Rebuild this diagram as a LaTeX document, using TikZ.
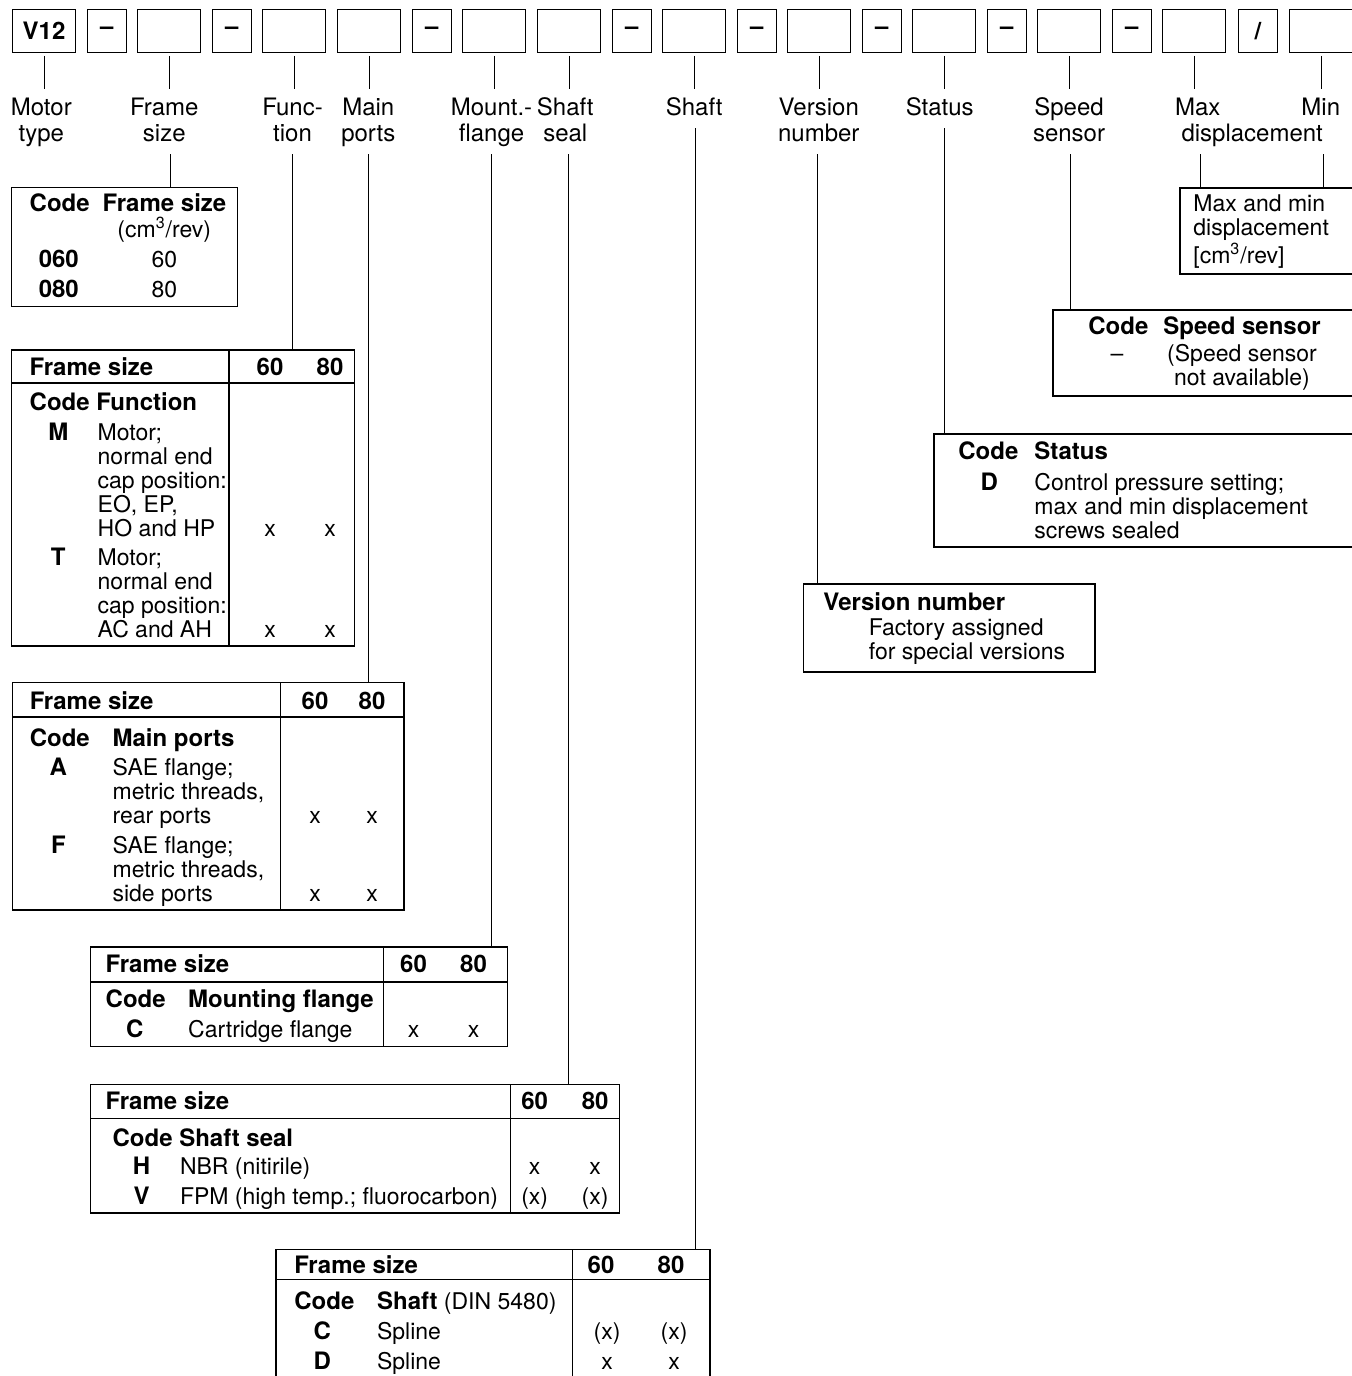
\documentclass[tikz,border=0pt]{standalone}
\usepackage{fontspec}
\setmainfont{TeX Gyre Heros}
\newcommand\bt[1]{{\fontsize{12}{12}\selectfont\bfseries #1}}
\tikzset{codebox/.style={
            draw,
            line width=0.6pt,
            minimum width=31.5pt,
            minimum height=21.5pt,
            inner sep=0pt,
            outer sep=1.8pt,
            font=\fontsize{12}{12}\selectfont\bfseries
        },
        dashbox/.style={
            codebox,
            minimum width=19.35pt
        },
        lbl/.style={
            align=center,
            anchor=north,
            inner xsep=0pt,
            inner ysep=2.2pt,
            font=\fontsize{12}{13}\selectfont
        },
        tick/.style={
            line width=0.5pt
        },
        uptick/.style={
            tick,
            shorten >=1.55pt
        },
        tab/.style={
            line width=0.6pt
        },
        cell/.style={
            anchor=base west,
            inner sep=0pt,
            align=left,
            font=\fontsize{11.5}{12}\selectfont
        },
        hcell/.style={
            cell,
            font=\fontsize{12}{12}\selectfont\bfseries
        },
        mcell/.style={
            cell,
            anchor=base
        },
        mhcell/.style={
            hcell,
            anchor=base
        }
    }
\begin{document}
\begin{tikzpicture}[x=0.5pt,y=-0.5pt]
\useasboundingbox (0,0) rectangle (1351,1376);
% type code boxes
\node[codebox] (bmotor) at (44,30.8) {V12};
\node[dashbox] (bd1) at (106.9,30.8) {\textendash};
\node[codebox] (bframe) at (169,30.8) {};
\node[dashbox] (bd2) at (231.9,30.8) {\textendash};
\node[codebox] (bfunc) at (294,30.8) {};
\node[codebox] (bmain) at (369,30.8) {};
\node[dashbox] (bd3) at (431.9,30.8) {\textendash};
\node[codebox] (bmount) at (494,30.8) {};
\node[codebox] (bseal) at (569,30.8) {};
\node[dashbox] (bd4) at (631.9,30.8) {\textendash};
\node[codebox] (bshaft) at (694,30.8) {};
\node[dashbox] (bd5) at (756.9,30.8) {\textendash};
\node[codebox] (bver) at (819,30.8) {};
\node[dashbox] (bd6) at (881.9,30.8) {\textendash};
\node[codebox] (bstatus) at (944,30.8) {};
\node[dashbox] (bd7) at (1006.9,30.8) {\textendash};
\node[codebox] (bspeed) at (1069,30.8) {};
\node[dashbox] (bd8) at (1131.9,30.8) {\textendash};
\node[codebox] (bmax) at (1194,30.8) {};
\node[dashbox] (bslash) at (1257.9,30.8) {/};
\node[codebox] (bmin) at (1321,30.8) {};
% field names
\node[lbl] (lmotor) at (41.3,92.4) {\strut Motor\\type\strut};
\node[lbl] (lframe) at (164.3,92.4) {\strut Frame\\size\strut};
\node[lbl] (lfunc) at (292.5,92.4) {\strut Func-\\tion\strut};
\node[lbl] (lmain) at (368.3,92.4) {\strut Main\\ports\strut};
\node[lbl] (lmount) at (491.5,92.4) {\strut Mount.-\\flange\strut};
\node[lbl] (lseal) at (565.3,92.4) {\strut Shaft\\seal\strut};
\node[lbl] (lshaft) at (694.2,92.4) {\strut Shaft\strut};
\node[lbl] (lver) at (818.8,92.4) {\strut Version\\number\strut};
\node[lbl] (lstatus) at (939.7,92.4) {\strut Status\strut};
\node[lbl] (lspeed) at (1069,92.4) {\strut Speed\\sensor\strut};
\node[lbl] (lmax) at (1197.8,92.4) {\strut Max\strut};
\node[lbl] (lmin) at (1320.8,92.4) {\strut Min\strut};
\node[lbl] (ldisp) at (1252.2,118.4) {\strut displacement\strut};
\draw[uptick] (bmotor.south) -- (bmotor.south |- lmotor.north);
\draw[uptick] (bframe.south) -- (bframe.south |- lframe.north);
\draw[uptick] (bfunc.south) -- (bfunc.south |- lfunc.north);
\draw[uptick] (bmain.south) -- (bmain.south |- lmain.north);
\draw[uptick] (bmount.south) -- (bmount.south |- lmount.north);
\draw[uptick] (bseal.south) -- (bseal.south |- lseal.north);
\draw[uptick] (bshaft.south) -- (bshaft.south |- lshaft.north);
\draw[uptick] (bver.south) -- (bver.south |- lver.north);
\draw[uptick] (bstatus.south) -- (bstatus.south |- lstatus.north);
\draw[uptick] (bspeed.south) -- (bspeed.south |- lspeed.north);
\draw[uptick] (bmax.south) -- (bmax.south |- lmax.north);
\draw[uptick] (bmin.south) -- (bmin.south |- lmin.north);
% frame size
\draw[tab] (11.7,187.3) rectangle (237.7,306.3);
\node[hcell] (fscode) at (29.3,211.7) {Code};
\node[hcell] (fshead) at (102.3,211.7) {Frame size};
\node[mcell] (fsunit) at (164.3,237) {(cm\textsuperscript{3}/rev)};
\node[mhcell] (fsc060) at (58.8,267.3) {060};
\node[mcell] (fsv60) at (164.3,267.3) {60};
\node[mhcell] (fsc080) at (58.8,297.3) {080};
\node[mcell] (fsv80) at (164.3,297.3) {80};
\coordinate (tframe) at (170.7,187.3);
% function (multi-line cells sit on their last line)
\draw[tab] (11.7,350) rectangle (354.3,646);
\draw[tab] (11.7,383) -- (354.3,383);
\draw[tab] (229,350) -- (229,646);
\node[hcell] (fnfs) at (29.3,375) {Frame size};
\node[mhcell] (fn60) at (270,375) {60};
\node[mhcell] (fn80) at (330,375) {80};
\node[hcell] (fnhead) at (29.3,410.7) {Code Function};
\node[mhcell] (fnm) at (58.3,440.7) {M};
\node[cell] (fnmtxt) at (97.3,536.7) {Motor;\\normal end\\cap position:\\EO, EP,\\HO and HP};
\node[mcell] (fnmx1) at (270,536.7) {x};
\node[mcell] (fnmx2) at (330,536.7) {x};
\node[mhcell] (fnt) at (58.3,565.7) {T};
\node[cell] (fnttxt) at (97.3,637.7) {Motor;\\normal end\\cap position:\\AC and AH};
\node[mcell] (fntx1) at (270,637.7) {x};
\node[mcell] (fntx2) at (330,637.7) {x};
\coordinate (tfunc) at (292.3,350);
% main ports
\draw[tab] (12.2,682.5) rectangle (404,910);
\draw[tab] (12.2,717) -- (404,717);
\draw[tab] (280.4,682.5) -- (280.4,910);
\node[hcell] (mpfs) at (29.4,709) {Frame size};
\node[mhcell] (mp60) at (315,709) {60};
\node[mhcell] (mp80) at (372,709) {80};
\node[hcell] (mpcode) at (29.4,746.5) {Code};
\node[hcell] (mphead) at (112.2,746.5) {Main ports};
\node[mhcell] (mpa) at (58.4,775.5) {A};
\node[cell] (mpatxt) at (112.2,823.5) {SAE flange;\\metric threads,\\rear ports};
\node[mcell] (mpax1) at (315,823.5) {x};
\node[mcell] (mpax2) at (372,823.5) {x};
\node[mhcell] (mpf) at (58.4,853.5) {F};
\node[cell] (mpftxt) at (112.2,901.5) {SAE flange;\\metric threads,\\side ports};
\node[mcell] (mpfx1) at (315,901.5) {x};
\node[mcell] (mpfx2) at (372,901.5) {x};
\coordinate (tmain) at (368.3,682.5);
% mounting flange
\draw[tab] (90.6,947) rectangle (507.3,1046.8);
\draw[tab] (90.6,982) -- (507.3,982);
\draw[tab] (383.7,947) -- (383.7,1046.8);
\node[hcell] (mffs) at (105.3,972.5) {Frame size};
\node[mhcell] (mf60) at (413.5,972.5) {60};
\node[mhcell] (mf80) at (473.5,972.5) {80};
\node[hcell] (mfcode) at (105.3,1007.5) {Code};
\node[hcell] (mfhead) at (187.8,1007.5) {Mounting flange};
\node[mhcell] (mfc) at (134.7,1037.5) {C};
\node[cell] (mfctxt) at (187.8,1037.5) {Cartridge flange};
\node[mcell] (mfcx1) at (413.5,1037.5) {x};
\node[mcell] (mfcx2) at (473.5,1037.5) {x};
\coordinate (tmount) at (491.7,947);
% shaft seal
\draw[tab] (90.6,1084.3) rectangle (619.6,1212.9);
\draw[tab] (90.6,1118.2) -- (619.6,1118.2);
\draw[tab] (510.2,1084.3) -- (510.2,1212.9);
\node[hcell] (ssfs) at (105.3,1109.5) {Frame size};
\node[mhcell] (ss60) at (534.7,1109.5) {60};
\node[mhcell] (ss80) at (595.1,1109.5) {80};
\node[hcell] (sshead) at (112.2,1146) {Code Shaft seal};
\node[mhcell] (ssh) at (141.6,1174) {H};
\node[cell] (sshtxt) at (179.6,1174) {NBR (nitirile)};
\node[mcell] (sshx1) at (534.7,1174) {x};
\node[mcell] (sshx2) at (595.1,1174) {x};
\node[mhcell] (ssv) at (141.6,1204) {V};
\node[cell] (ssvtxt) at (179.6,1204) {FPM (high temp.; fluorocarbon)};
\node[mcell] (ssvx1) at (534.7,1204) {(x)};
\node[mcell] (ssvx2) at (595.1,1204) {(x)};
\coordinate (tseal) at (568.3,1084.3);
% shaft
\draw[tab] (710,1400) -- (710,1249.3) -- (276,1249.3) -- (276,1400);
\draw[tab] (276,1279.5) -- (710,1279.5);
\draw[tab] (572.7,1249.3) -- (572.7,1400);
\node[hcell] (shfs) at (294,1273) {Frame size};
\node[mhcell] (sh60) at (601,1273) {60};
\node[mhcell] (sh80) at (671,1273) {80};
\node[hcell] (shcode) at (294,1309) {Code};
\node[cell] (shhead) at (376.7,1309) {\bt{Shaft} (DIN 5480)};
\node[mhcell] (shc) at (322.3,1339) {C};
\node[cell] (shctxt) at (376.7,1339) {Spline};
\node[mcell] (shcx1) at (607,1339) {(x)};
\node[mcell] (shcx2) at (674,1339) {(x)};
\node[mhcell] (shd) at (322.3,1369) {D};
\node[cell] (shdtxt) at (376.7,1369) {Spline};
\node[mcell] (shdx1) at (607,1369) {x};
\node[mcell] (shdx2) at (674,1369) {x};
\coordinate (tshaft) at (695.7,1249.3);
% max and min displacement
\draw[tab] (1365,188) -- (1180,188) -- (1180,274) -- (1365,274);
\node[cell] (mmtxt) at (1193,263) {Max and min\\displacement\\{[}cm\textsuperscript{3}/rev{]}};
\coordinate (tmax) at (1200,188);
\coordinate (tmin) at (1323.3,188);
% speed sensor
\draw[tab] (1365,310) -- (1053,310) -- (1053,396) -- (1365,396);
\node[hcell] (spcode) at (1088,334) {Code};
\node[hcell] (sphead) at (1163,334) {Speed sensor};
\node[mcell] (spdash) at (1117,361) {\textendash};
\node[mcell,align=center] (sptxt) at (1242,385) {(Speed sensor\\not available)};
\coordinate (tspeed) at (1070,310);
% status
\draw[tab] (1365,434) -- (934,434) -- (934,547) -- (1365,547);
\node[hcell] (stcode) at (958,459) {Code};
\node[hcell] (sthead) at (1034,459) {Status};
\node[mhcell] (std) at (989.3,490) {D};
\node[cell] (sttxt) at (1034,538) {Control pressure setting;\\max and min displacement\\screws sealed};
\coordinate (tstatus) at (944.3,434);
% version number
\draw[tab] (803.7,584) rectangle (1095,672);
\node[hcell] (vnhead) at (823,610) {Version number};
\node[cell] (vntxt) at (868.5,659) {Factory assigned\\for special versions};
\coordinate (tver) at (817.3,584);
% leaders down to the tables
\draw[tick] (tframe |- lframe.south) -- (tframe);
\draw[tick] (tfunc |- lfunc.south) -- (tfunc);
\draw[tick] (tmain |- lmain.south) -- (tmain);
\draw[tick] (tmount |- lmount.south) -- (tmount);
\draw[tick] (tseal |- lseal.south) -- (tseal);
\draw[tick] (tshaft |- lshaft.south) -- (tshaft);
\draw[tick] (tver |- lver.south) -- (tver);
\draw[tick] (tstatus |- lstatus.south) -- (tstatus);
\draw[tick] (tspeed |- lspeed.south) -- (tspeed);
\draw[tick] (tmax |- ldisp.south) -- (tmax);
\draw[tick] (tmin |- ldisp.south) -- (tmin);
\end{tikzpicture}
\end{document}
